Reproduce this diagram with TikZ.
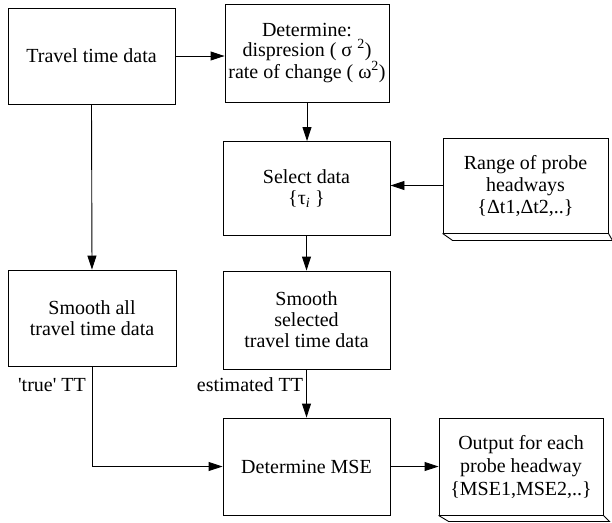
\documentclass[tikz,border=0pt]{standalone}
\usepackage{fontspec}
\setmainfont{Liberation Serif}
\usetikzlibrary{arrows.meta,calc}
\begin{document}
\begin{tikzpicture}[x=1pt,y=-1pt,
  box/.style={draw,line width=0.9pt,rectangle,align=center,inner sep=0pt,
    font=\fontsize{20}{21}\selectfont},
  lbl/.style={inner sep=0pt,font=\fontsize{20}{21}\selectfont},
  arr/.style={line width=0.9pt,-{Triangle[length=14pt,width=9pt]}},
  ln/.style={line width=0.9pt}]
\useasboundingbox (0,0) rectangle (612,522);
\node[box,minimum width=167pt,minimum height=96pt] (ttd) at (91.5,56) {Travel time data};
\node[box,minimum width=164pt,minimum height=98pt,font=\fontsize{20}{19.5}\selectfont] (det) at (307,53)
  {Determine:\\dispresion ( σ \textsuperscript{2})\\rate of change ( ω\textsuperscript{2})};
\node[box,minimum width=167pt,minimum height=94pt] (sel) at (306.5,188.5)
  {Select data\\\{τ\textsubscript{\itshape i}\ \}};
\node[box,minimum width=165pt,minimum height=95pt,font=\fontsize{20}{22}\selectfont] (rng) at (525.5,185.5)
  {Range of probe\\headways\\\{Δt1,Δt2,..\}};
\node[box,minimum width=168pt,minimum height=96pt] (sma) at (92,318)
  {Smooth all\\travel time data};
\node[box,minimum width=167pt,minimum height=98pt] (sms) at (306.5,320)
  {Smooth\\selected\\travel time data};
\node[box,minimum width=167pt,minimum height=97pt] (mse) at (306.5,466.5) {Determine MSE};
\node[box,minimum width=164pt,minimum height=97pt,font=\fontsize{20}{23}\selectfont] (out) at (521,466.5)
  {Output for each\\probe headway\\\{MSE1,MSE2,..\}};
% document-like bottoms
\draw[ln] (rng.south west) -- ($(rng.south west)+(10,7)$) -- ($(rng.south east)+(4,7)$) -- (rng.south east);
\draw[ln] (out.south west) -- ($(out.south west)+(10,6)$) -- ($(out.south east)+(6,6)$) -- (out.south east);
% connectors
\draw[arr] (ttd.east) -- (det.west |- ttd.east);
\draw[arr] (det.south) -- (det.south |- sel.north);
\draw[arr] (rng.west) -- (sel.east |- rng.west);
\draw[arr] (ttd.south) -- (sma.north);
\draw[arr] (sel.south) -- (sms.north);
\draw[arr] (sms.south) -- (mse.north);
\coordinate (corner) at (sma.south |- mse.west);
\draw[arr] (sma.south) -- (corner) -- (mse.west);
\draw[arr] (mse.east) -- (out.west);
\node[lbl] (ltrue) at (52,385) {\textquotesingle true\textquotesingle{} TT};
\node[lbl] (lest) at (250,385) {estimated TT};
\end{tikzpicture}
\end{document}
